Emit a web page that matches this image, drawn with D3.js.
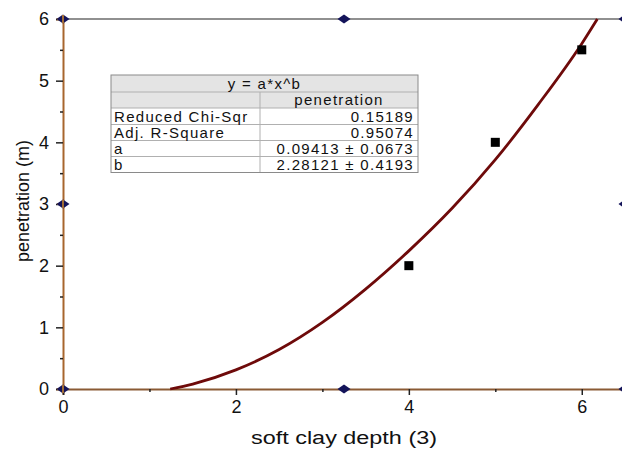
<!DOCTYPE html>
<html>
<head>
<meta charset="utf-8">
<script src="https://d3js.org/d3.v7.min.js"></script>
<style>
  body { margin: 0; background: #fff; }
  text { font-family: "Liberation Sans", Arial, sans-serif; }
</style>
</head>
<body>
<div id="viz"></div>
<script>
// measured points
const depth = [4, 5, 6];
const penetration = [2, 4, 5.5];

// fitted curve
const fitX = [1.24, 1.5, 2, 2.5, 3, 3.5, 4, 4.5, 5, 5.5, 6, 6.18];
const fitY = [0, 0.08, 0.31, 0.64, 1.08, 1.62, 2.24, 2.93, 3.72, 4.62, 5.6, 6.0];

// anchor diamonds on the frame
const anchorX = [0, 0, 0, 3.25, 3.25, 6.5, 6.5, 6.5];
const anchorY = [0, 3, 6, 6, 0, 0, 3, 6];

const xTicks = [0, 2, 4, 6];
const xMinor = [1, 3, 5];
const yTicks = [0, 1, 2, 3, 4, 5, 6];
const yMinor = [0.5, 1.5, 2.5, 3.5, 4.5, 5.5];

const tableTitle = "y = a*x^b";
const tableColumn = "penetration";
const tableLabels = ["Reduced Chi-Sqr", "Adj. R-Square", "a", "b"];
const tableValues = ["0.15189", "0.95074", "0.09413 \u00b1 0.0673", "2.28121 \u00b1 0.4193"];

let width = 622, height = 450;
let svg = d3.select('#viz').append('svg')
    .attr('width', width)
    .attr('height', height);

let x = d3.scaleLinear().domain([0, 6.5]).range([63, 625]);
let y = d3.scaleLinear().domain([0, 6]).range([389, 19]);

// top frame line
svg.append('line')
    .attr('x1', x(0)).attr('x2', x(6.5))
    .attr('y1', y(6)).attr('y2', y(6))
    .attr('stroke', '#222').attr('stroke-width', 1.2);

// bottom axis
let xAxis = svg.append('g')
    .attr('transform', `translate(0,${y(0)})`)
    .call(d3.axisBottom(x).tickValues(xTicks).tickSize(6).tickPadding(5).tickFormat(d3.format('d')));
svg.append('g')
    .attr('transform', `translate(0,${y(0)})`)
    .call(d3.axisBottom(x).tickValues(xMinor).tickSize(3).tickFormat(''))
    .select('.domain').remove();

// left axis
let yAxis = svg.append('g')
    .attr('transform', `translate(${x(0)},0)`)
    .call(d3.axisLeft(y).tickValues(yTicks).tickSize(7).tickPadding(7).tickFormat(d3.format('d')));
svg.append('g')
    .attr('transform', `translate(${x(0)},0)`)
    .call(d3.axisLeft(y).tickValues(yMinor).tickSize(3).tickFormat(''))
    .select('.domain').remove();

svg.selectAll('.tick line').attr('stroke', '#222').attr('stroke-width', 1.5);
svg.selectAll('.tick text').attr('font-size', 18).attr('fill', '#111')
    .style('font-family', '"Liberation Sans", Arial, sans-serif');
xAxis.select('.domain').attr('stroke', '#8a5a34').attr('stroke-width', 2);
yAxis.select('.domain').attr('stroke', '#a8662e').attr('stroke-width', 2);

// axis titles
svg.append('text')
    .attr('x', 251).attr('y', 444)
    .attr('font-size', 18).attr('fill', '#111')
    .attr('textLength', 186).attr('lengthAdjust', 'spacingAndGlyphs')
    .text('soft clay depth (3)');
svg.append('text')
    .attr('transform', `translate(29,${y(3) - 3}) rotate(-90)`)
    .attr('text-anchor', 'middle')
    .attr('font-size', 18).attr('fill', '#111')
    .text('penetration (m)');

// fit curve
let line = d3.line()
    .x((d, i) => x(fitX[i]))
    .y((d, i) => y(fitY[i]))
    .curve(d3.curveMonotoneX);
svg.append('path')
    .datum(fitX)
    .attr('d', line)
    .attr('fill', 'none')
    .attr('stroke', '#6e0a0a')
    .attr('stroke-width', 2.8);

// data squares
svg.selectAll('.pt')
    .data(depth)
    .enter()
    .append('rect')
    .attr('class', 'pt')
    .attr('x', (d, i) => x(d) - 4.5)
    .attr('y', (d, i) => y(penetration[i]) - 4.5)
    .attr('width', 9).attr('height', 9)
    .attr('fill', '#000');

// anchor diamonds
let anchors = svg.selectAll('.anchor')
    .data(anchorX)
    .enter()
    .append('g')
    .attr('transform', (d, i) => `translate(${x(d)},${y(anchorY[i])})`);
anchors.filter(d => d === 0).append('line')
    .attr('x1', -6).attr('x2', 0).attr('y1', 0).attr('y2', 0)
    .attr('stroke', '#d08a2a').attr('stroke-width', 2);
anchors.append('path')
    .attr('d', 'M-6.5,0 L0,-4.5 L6.5,0 L0,4.5 Z')
    .attr('fill', '#14145a');
anchors.filter(d => d === 0).append('line')
    .attr('x1', 0).attr('x2', 0).attr('y1', -4).attr('y2', 4)
    .attr('stroke', '#d08a2a').attr('stroke-width', 1.5);

// fit results table
let tx = 111, tw = 307, colX = 260;
let rowTops = [75, 92, 108, 124.5, 140.5, 156.5, 172.5];
let fs = 15, ls = 1.3;
let table = svg.append('g');
table.append('rect')
    .attr('x', tx).attr('y', rowTops[0])
    .attr('width', tw).attr('height', rowTops[2] - rowTops[0])
    .attr('fill', '#e4e4e4');
for (let i = 1; i < rowTops.length - 1; i++) {
    table.append('line')
        .attr('x1', tx).attr('x2', tx + tw)
        .attr('y1', rowTops[i]).attr('y2', rowTops[i])
        .attr('stroke', '#b0b0b0');
}
table.append('line')
    .attr('x1', colX).attr('x2', colX)
    .attr('y1', rowTops[1]).attr('y2', rowTops[6])
    .attr('stroke', '#b0b0b0');
table.append('rect')
    .attr('x', tx).attr('y', rowTops[0])
    .attr('width', tw).attr('height', rowTops[6] - rowTops[0])
    .attr('fill', 'none').attr('stroke', '#8a8a8a');
table.append('text')
    .attr('x', tx + tw / 2).attr('y', rowTops[1] - 3.5)
    .attr('text-anchor', 'middle').attr('font-size', fs).attr('letter-spacing', ls).attr('fill', '#111')
    .text(tableTitle);
table.append('text')
    .attr('x', (colX + tx + tw) / 2).attr('y', rowTops[2] - 3)
    .attr('text-anchor', 'middle').attr('font-size', fs).attr('letter-spacing', ls).attr('fill', '#111')
    .text(tableColumn);
tableLabels.forEach((lab, i) => {
    table.append('text')
        .attr('x', tx + 3).attr('y', rowTops[i + 3] - 3)
        .attr('font-size', fs).attr('letter-spacing', ls).attr('fill', '#111')
        .text(lab);
    table.append('text')
        .attr('x', tx + tw - 4).attr('y', rowTops[i + 3] - 3)
        .attr('text-anchor', 'end').attr('font-size', fs).attr('letter-spacing', ls).attr('fill', '#111')
        .text(tableValues[i]);
});
</script>
</body>
</html>
